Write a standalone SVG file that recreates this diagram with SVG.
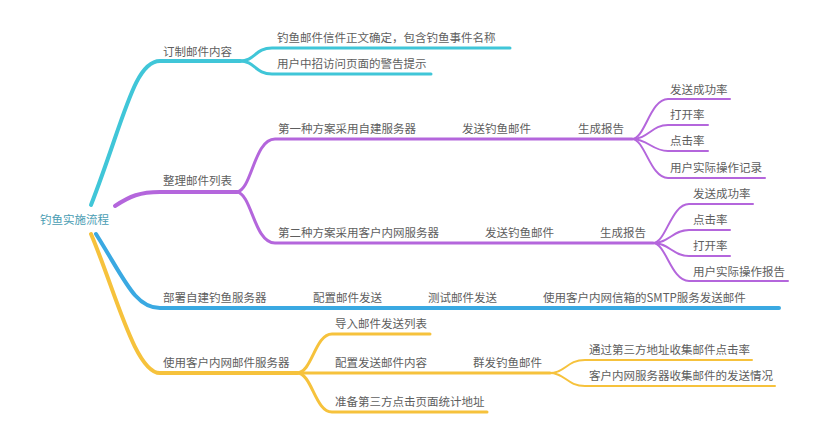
<svg xmlns="http://www.w3.org/2000/svg" width="814" height="435" viewBox="0 0 814 435">
<style>
text{font-family:"Noto Sans CJK SC","Noto Sans",sans-serif;font-size:11.5px;fill:#5e5e5e}
.root{fill:#4a9db3}
path{fill:none;stroke-linecap:round;stroke-linejoin:round}
.c{stroke:#40c6d8}
.p{stroke:#b466dc}
.b{stroke:#3aa9e2}
.y{stroke:#f6c23c}
.w4{stroke-width:4}
.w3{stroke-width:3}
.w2{stroke-width:2}
</style>
<rect width="814" height="435" fill="#fff"/>
<g id="connectors">
<path class="c w4" d="M91,205 C124,120 134,61 160,61 L240,61"/>
<path class="c w3" d="M240,61 C255,61 255,48 272,48 L510,48"/>
<path class="c w3" d="M240,61 C255,61 255,74 272,74 L431,74"/>
<path class="p w4" d="M115,206 C130,196 140,192 160,192 L237,192"/>
<path class="p w3" d="M237,192 C252,190 254,139 275,139 L632,139"/>
<path class="p w3" d="M237,192 C252,194 254,243 275,243 L653,243"/>
<path class="p w2" d="M632,139 C645,139 650,99 668,99 L730,99"/>
<path class="p w2" d="M632,139 C648,139 652,125 668,125 L708,125"/>
<path class="p w2" d="M632,139 C648,139 652,151 668,151 L708,151"/>
<path class="p w2" d="M632,139 C645,139 650,178 668,178 L765,178"/>
<path class="p w2" d="M653,243 C666,243 671,204 689,204 L753,204"/>
<path class="p w2" d="M653,243 C669,243 673,230 689,230 L730,230"/>
<path class="p w2" d="M653,243 C669,243 673,256 689,256 L730,256"/>
<path class="p w2" d="M653,243 C666,243 671,281 689,281 L788,281"/>
<path class="b w4" d="M96,234 C125,280 135,308 160,308 L779,308"/>
<path class="y w4" d="M91,234 C115,290 135,373 160,373 L297,373"/>
<path class="y w3" d="M297,373 C312,373 315,334 332,334 L430,334"/>
<path class="y w3" d="M297,373 L550,373"/>
<path class="y w3" d="M297,373 C312,373 315,412 332,412 L487,412"/>
<path class="y w2" d="M550,373 C565,373 567,360 585,360 L752,360"/>
<path class="y w2" d="M550,373 C565,373 567,386 585,386 L775,386"/>
</g>
<g id="root"><text class="root" x="40" y="224">钓鱼实施流程</text></g>
<g id="n1"><text x="163" y="56">订制邮件内容</text></g>
<g id="n1a"><text x="277" y="42">钓鱼邮件信件正文确定，包含钓鱼事件名称</text></g>
<g id="n1b"><text x="277" y="68">用户中招访问页面的警告提示</text></g>
<g id="n2"><text x="163" y="185">整理邮件列表</text></g>
<g id="n2a"><text x="278" y="133">第一种方案采用自建服务器</text></g>
<g id="n2a1"><text x="462" y="133">发送钓鱼邮件</text></g>
<g id="n2a2"><text x="578" y="133">生成报告</text></g>
<g id="n2a3"><text x="670" y="94">发送成功率</text></g>
<g id="n2a4"><text x="670" y="119">打开率</text></g>
<g id="n2a5"><text x="670" y="145">点击率</text></g>
<g id="n2a6"><text x="670" y="172">用户实际操作记录</text></g>
<g id="n2b"><text x="278" y="237">第二种方案采用客户内网服务器</text></g>
<g id="n2b1"><text x="485" y="237">发送钓鱼邮件</text></g>
<g id="n2b2"><text x="600" y="237">生成报告</text></g>
<g id="n2b3"><text x="693" y="198">发送成功率</text></g>
<g id="n2b4"><text x="693" y="224">点击率</text></g>
<g id="n2b5"><text x="693" y="250">打开率</text></g>
<g id="n2b6"><text x="693" y="276">用户实际操作报告</text></g>
<g id="n3"><text x="163" y="302">部署自建钓鱼服务器</text></g>
<g id="n3a"><text x="313" y="302">配置邮件发送</text></g>
<g id="n3b"><text x="428" y="302">测试邮件发送</text></g>
<g id="n3c"><text x="543" y="302">使用客户内网信箱的SMTP服务发送邮件</text></g>
<g id="n4"><text x="163" y="367">使用客户内网邮件服务器</text></g>
<g id="n4a"><text x="335" y="328">导入邮件发送列表</text></g>
<g id="n4b"><text x="335" y="367">配置发送邮件内容</text></g>
<g id="n4b1"><text x="473" y="367">群发钓鱼邮件</text></g>
<g id="n4b2"><text x="589" y="354">通过第三方地址收集邮件点击率</text></g>
<g id="n4b3"><text x="589" y="380">客户内网服务器收集邮件的发送情况</text></g>
<g id="n4c"><text x="335" y="406">准备第三方点击页面统计地址</text></g>
</svg>
